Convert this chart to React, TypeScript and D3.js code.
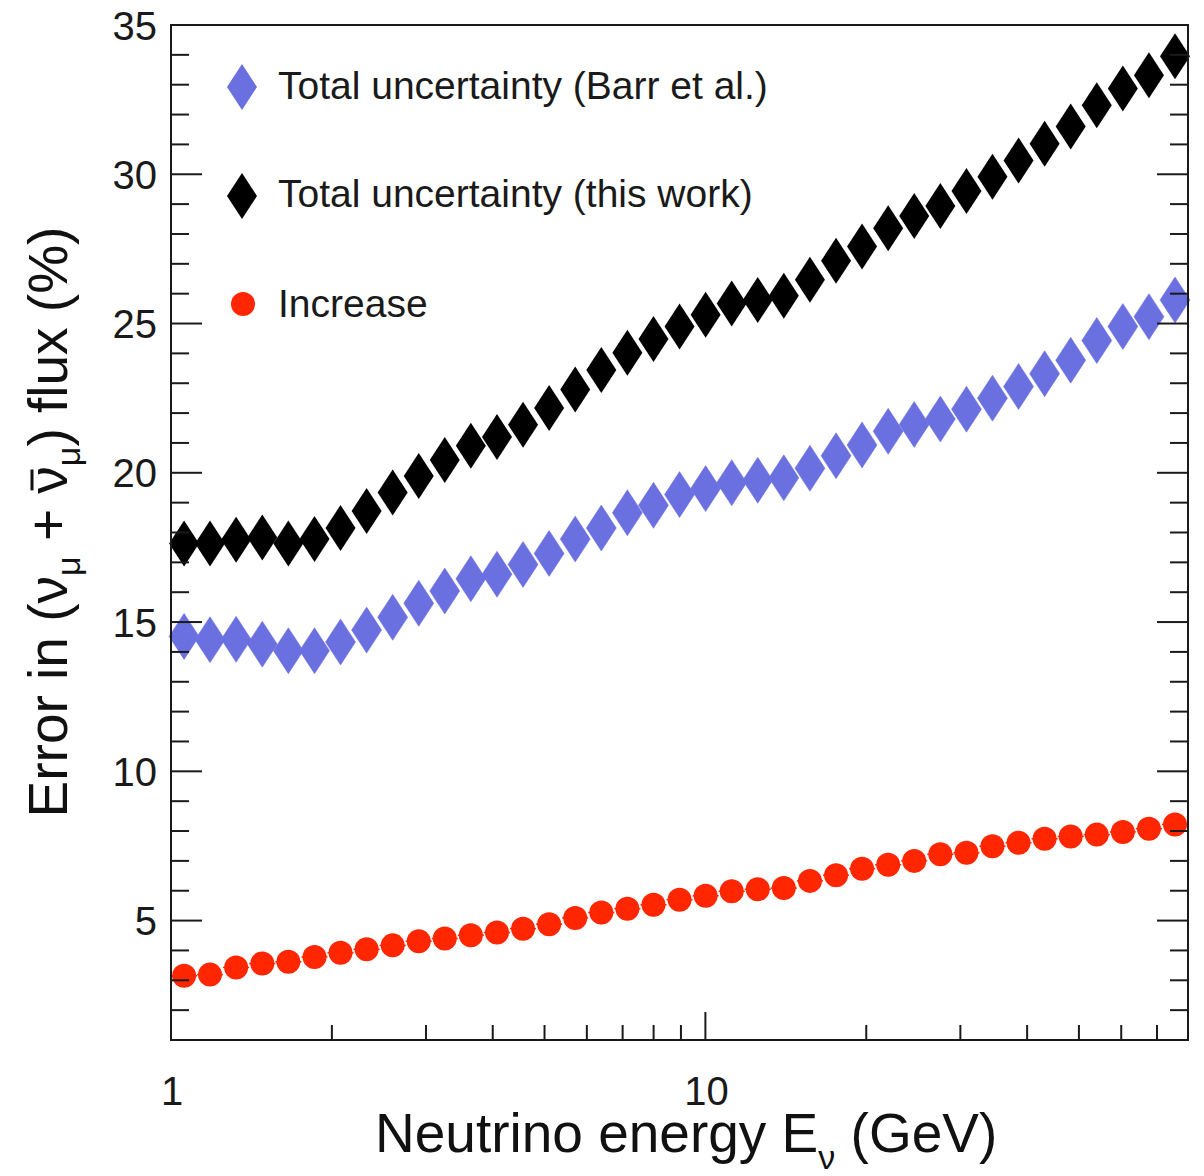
import React, { useLayoutEffect, useRef, useState } from "react";
import * as d3 from "d3";

const energies = [1.058, 1.183, 1.324, 1.482, 1.658, 1.856, 2.076, 2.323, 2.599, 2.908, 3.253, 3.64, 4.074, 4.558, 5.1, 5.707, 6.386, 7.145, 7.996, 8.946, 10.01, 11.2, 12.53, 14.02, 15.69, 17.56, 19.64, 21.98, 24.59, 27.52, 30.8, 34.45, 38.55, 43.13, 48.26, 54.0, 60.42, 67.61, 75.65];
const barrUncertainty = [14.52, 14.41, 14.42, 14.26, 14.04, 14.04, 14.33, 14.73, 15.16, 15.63, 16.04, 16.45, 16.6, 16.93, 17.3, 17.78, 18.15, 18.66, 18.91, 19.27, 19.47, 19.67, 19.75, 19.83, 20.15, 20.57, 20.93, 21.39, 21.62, 21.8, 22.13, 22.5, 22.89, 23.32, 23.77, 24.43, 24.9, 25.23, 25.79];
const thisWorkUncertainty = [17.63, 17.63, 17.76, 17.83, 17.63, 17.78, 18.15, 18.72, 19.34, 19.89, 20.43, 20.91, 21.2, 21.61, 22.17, 22.79, 23.44, 24.02, 24.48, 24.9, 25.29, 25.67, 25.79, 25.93, 26.47, 27.1, 27.58, 28.19, 28.6, 28.94, 29.44, 29.92, 30.46, 31.02, 31.6, 32.31, 32.87, 33.32, 33.95];
const increase = [3.15, 3.19, 3.43, 3.56, 3.62, 3.78, 3.92, 4.04, 4.17, 4.31, 4.4, 4.51, 4.6, 4.73, 4.88, 5.09, 5.27, 5.4, 5.53, 5.7, 5.83, 5.98, 6.05, 6.09, 6.33, 6.52, 6.74, 6.87, 7.0, 7.22, 7.27, 7.49, 7.61, 7.74, 7.82, 7.88, 7.97, 8.08, 8.22];

const xMajorTicks = [1, 10];
const xMinorTicks = [2, 3, 4, 5, 6, 7, 8, 9, 20, 30, 40, 50, 60, 70];
const yMajorTicks = [5, 10, 15, 20, 25, 30, 35];
const yMinorTicks = d3.range(2, 35);
const legendLabels = [
  "Total uncertainty (Barr et al.)",
  "Total uncertainty (this work)",
  "Increase",
];

const BLUE = "#6b70e0";
const BLACK = "#000000";
const RED = "#ff2600";
const FONT = "'Liberation Sans', Arial, Helvetica, sans-serif";

const W = 1204;
const H = 1176;
const left = 171;
const right = 1188;
const top = 25;
const bottom = 1040;

const diamond = (cx: number, cy: number, hw = 15, hh = 23) =>
  `M${cx},${cy - hh}L${cx + hw},${cy}L${cx},${cy + hh}L${cx - hw},${cy}Z`;

export default function App() {
  const x = d3.scaleLog().domain([1, 80]).range([left, right]);
  const y = d3.scaleLinear().domain([1, 35]).range([bottom, top]);

  const titleRef = useRef<SVGTextElement>(null);
  const [bar, setBar] = useState<{ x1: number; x2: number } | null>(null);

  useLayoutEffect(() => {
    const el = titleRef.current;
    if (!el) return;
    const txt = el.textContent || "";
    const idx = txt.lastIndexOf("ν");
    if (idx < 0) return;
    try {
      const ext = el.getExtentOfChar(idx);
      setBar({ x1: ext.x + ext.width * 0.12, x2: ext.x + ext.width * 0.88 });
    } catch (e) {
      /* ignore */
    }
  }, []);

  // bin edges for red horizontal error bars (geometric mid between neighbours)
  const edges = energies.map((e, i) => {
    const lo = i === 0 ? e / Math.sqrt(energies[1] / energies[0]) : Math.sqrt(e * energies[i - 1]);
    const hi = i === energies.length - 1 ? e * Math.sqrt(e / energies[i - 1]) : Math.sqrt(e * energies[i + 1]);
    return [lo, hi];
  });

  const tickColor = "#1a1a1a";
  const titleSize = 55;

  return (
    <svg
      width={W}
      height={H}
      style={{ position: "absolute", left: 0, top: 0, background: "#fff" }}
      fontFamily={FONT}
    >
      <rect x={0} y={0} width={W} height={H} fill="#fff" />

      {/* data: blue diamonds */}
      {energies.map((e, i) => (
        <path key={`b${i}`} d={diamond(x(e), y(barrUncertainty[i]))} fill={BLUE} stroke={BLUE} strokeWidth={0.5} />
      ))}
      {/* data: black diamonds */}
      {energies.map((e, i) => (
        <path key={`k${i}`} d={diamond(x(e), y(thisWorkUncertainty[i]))} fill={BLACK} />
      ))}
      {/* red error bars + circles */}
      {energies.map((e, i) => (
        <line
          key={`re${i}`}
          x1={x(edges[i][0])}
          x2={x(Math.min(edges[i][1], 80))}
          y1={y(increase[i])}
          y2={y(increase[i])}
          stroke={RED}
          strokeWidth={1.5}
        />
      ))}
      {energies.map((e, i) => (
        <circle key={`r${i}`} cx={x(e)} cy={y(increase[i])} r={12} fill={RED} />
      ))}

      {/* frame */}
      <rect x={left} y={top} width={right - left} height={bottom - top} fill="none" stroke={tickColor} strokeWidth={2} />

      {/* y ticks left & right */}
      {yMinorTicks.map((v) => (
        <g key={`ym${v}`} stroke={tickColor} strokeWidth={2}>
          <line x1={left} x2={left + (v % 5 === 0 ? 31 : 18)} y1={y(v)} y2={y(v)} />
          <line x1={right} x2={right - (v % 5 === 0 ? 31 : 18)} y1={y(v)} y2={y(v)} />
        </g>
      ))}
      {yMajorTicks.map((v) => (
        <text key={`yl${v}`} x={157} y={y(v) + 14.5} textAnchor="end" fontSize={40} fill="#1a1a1a">
          {v}
        </text>
      ))}

      {/* x ticks */}
      {xMajorTicks.map((v) => (
        <g key={`xM${v}`}>
          <line x1={x(v)} x2={x(v)} y1={bottom} y2={bottom - 28} stroke={tickColor} strokeWidth={2} />
          <text x={x(v) + 1} y={1105} textAnchor="middle" fontSize={40} fill="#1a1a1a">
            {v}
          </text>
        </g>
      ))}
      {xMinorTicks.map((v) => (
        <line key={`xm${v}`} x1={x(v)} x2={x(v)} y1={bottom} y2={bottom - 15} stroke={tickColor} strokeWidth={2} />
      ))}

      {/* axis titles */}
      <text x={375} y={1152} fontSize={titleSize} fill="#111">
        Neutrino energy E
        <tspan fontSize={34} dy={17}>ν</tspan>
        <tspan dy={-17}> (GeV)</tspan>
      </text>
      <g transform="translate(67,522) rotate(-90)">
        <text ref={titleRef} x={0} y={0} textAnchor="middle" fontSize={titleSize} fill="#111">
          Error in (ν
          <tspan fontSize={34} dy={13}>μ</tspan>
          <tspan dy={-13}> + ν</tspan>
          <tspan fontSize={34} dy={13}>μ</tspan>
          <tspan dy={-13}>) flux (%)</tspan>
        </text>
        {bar && <line x1={bar.x1} x2={bar.x2} y1={-35} y2={-35} stroke="#111" strokeWidth={3} />}
      </g>

      {/* legend */}
      <path d={diamond(242, 87)} fill={BLUE} />
      <text x={278} y={99} fontSize={39} fill="#1a1a1a">{legendLabels[0]}</text>
      <path d={diamond(242, 196)} fill={BLACK} />
      <text x={278} y={207} fontSize={39} fill="#1a1a1a">{legendLabels[1]}</text>
      <circle cx={243} cy={304} r={12} fill={RED} />
      <text x={278} y={317} fontSize={39} fill="#1a1a1a">{legendLabels[2]}</text>
    </svg>
  );
}
